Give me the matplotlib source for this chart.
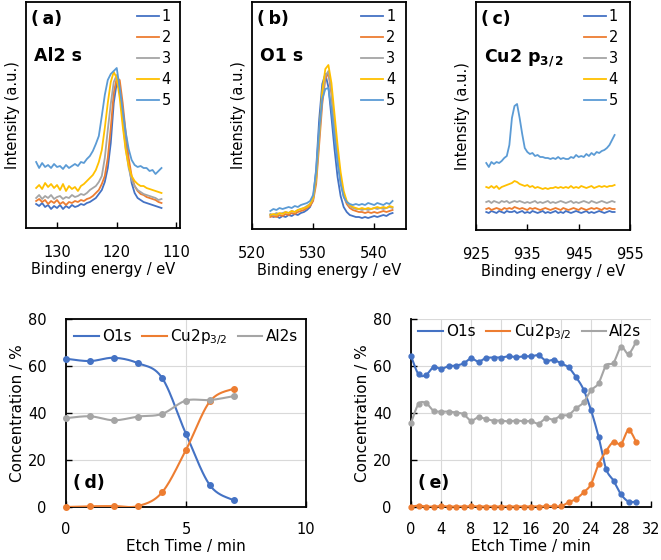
import numpy as np
import matplotlib
matplotlib.use("Agg")
import matplotlib.pyplot as plt

plt.rcParams['font.family'] = ['DejaVu Sans']
plt.rcParams['mathtext.fontset'] = 'dejavusans'

C1, C2, C3, C4, C5 = '#4472C4', '#ED7D31', '#A5A5A5', '#FFC000', '#5B9BD5'
spec_colors = [C1, C2, C3, C4, C5]
spec_labels = ['1', '2', '3', '4', '5']

# ---------------- (a) Al2s ----------------
E_a = [133.5, 133, 132.5, 132, 131.5, 131, 130.5, 130, 129.5, 129, 128.5, 128, 127.5, 127,
       126.5, 126, 125.5, 125, 124.5, 124, 123.5, 123, 122.5, 122, 121.5, 121, 120.5, 120,
       119.5, 119, 118.5, 118, 117.5, 117, 116.5, 116, 115.5, 115, 114.5, 114, 113.5, 113, 112.5]
a1 = [24, 22, 25, 21, 23, 19, 22, 20, 23, 19, 22, 20, 23, 21, 22, 24, 23, 25, 26, 28, 30, 34, 38, 46,
      60, 85, 125, 145, 138, 112, 88, 65, 45, 35, 30, 28, 26, 25, 24, 23, 22, 21, 20]
a2 = [27, 29, 26, 28, 24, 27, 25, 28, 24, 26, 23, 26, 25, 27, 26, 28, 27, 29, 30, 32, 35, 38, 44, 52,
      70, 100, 135, 150, 148, 125, 96, 70, 52, 42, 37, 34, 33, 31, 30, 29, 28, 26, 25]
a3 = [30, 33, 29, 32, 30, 33, 29, 31, 32, 29, 31, 30, 33, 31, 32, 34, 33, 35, 38, 40, 42, 46, 52, 70,
      98, 124, 146, 153, 138, 108, 80, 60, 48, 42, 38, 36, 34, 33, 32, 31, 30, 28, 29]
a4 = [40, 43, 39, 45, 41, 44, 40, 43, 38, 44, 37, 42, 39, 41, 37, 42, 44, 47, 50, 53, 58, 66, 78, 100,
      125, 146, 156, 150, 130, 102, 78, 62, 52, 47, 44, 42, 42, 40, 39, 38, 37, 36, 35]
a5 = [66, 60, 65, 61, 63, 60, 64, 61, 62, 59, 63, 60, 62, 64, 62, 66, 65, 69, 72, 77, 84, 92, 112, 133,
      148, 154, 157, 160, 140, 118, 96, 79, 68, 63, 61, 62, 60, 60, 57, 58, 54, 57, 60]

# ---------------- (b) O1s ----------------
E_b = [523, 523.5, 524, 524.5, 525, 525.5, 526, 526.5, 527, 527.5, 528, 528.5, 529, 529.5, 530,
       530.5, 531, 531.5, 532, 532.5, 533, 533.5, 534, 534.5, 535, 535.5, 536, 536.5, 537, 537.5,
       538, 538.5, 539, 539.5, 540, 540.5, 541, 541.5, 542, 542.5, 543]
b1 = [14, 12, 13, 11, 13, 12, 14, 13, 15, 14, 16, 17, 19, 22, 30, 60, 110, 145, 155, 142, 112, 80, 52,
      33, 22, 17, 14, 13, 12, 12, 11, 12, 11, 12, 13, 12, 13, 14, 13, 15, 16]
b2 = [12, 13, 12, 14, 13, 15, 14, 16, 15, 17, 18, 19, 21, 23, 28, 45, 85, 125, 150, 156, 135, 102, 72,
      48, 33, 25, 21, 19, 18, 17, 17, 16, 17, 16, 17, 16, 17, 18, 17, 18, 19]
b3 = [15, 14, 16, 15, 16, 17, 16, 18, 17, 19, 20, 21, 23, 25, 30, 50, 92, 132, 153, 158, 138, 105, 75,
      50, 35, 27, 23, 21, 20, 20, 19, 20, 19, 20, 21, 20, 21, 20, 21, 22, 21]
b4 = [14, 15, 14, 16, 15, 17, 16, 18, 17, 19, 20, 21, 22, 25, 31, 52, 95, 138, 160, 164, 146, 115, 84,
      57, 38, 28, 24, 22, 21, 20, 21, 20, 21, 20, 21, 22, 21, 22, 21, 23, 22]
b5 = [18, 20, 19, 21, 20, 21, 22, 21, 23, 22, 24, 25, 26, 28, 34, 58, 100, 130, 140, 141, 120, 92, 66,
      45, 32, 27, 25, 24, 25, 24, 25, 24, 26, 25, 24, 26, 25, 24, 26, 25, 28]

# ---------------- (c) Cu2p3/2 ----------------
E_c = [927, 927.5, 928, 928.5, 929, 929.5, 930, 930.5, 931, 931.5, 932, 932.5, 933, 933.5, 934,
       934.5, 935, 935.5, 936, 936.5, 937, 937.5, 938, 938.5, 939, 939.5, 940, 940.5, 941, 941.5,
       942, 942.5, 943, 943.5, 944, 944.5, 945, 945.5, 946, 946.5, 947, 947.5, 948, 948.5, 949,
       949.5, 950, 950.5, 951, 951.5, 952]
c1 = [18, 17, 19, 18, 17, 19, 18, 17, 19, 18, 18, 19, 17, 18, 19, 17, 18, 17, 19, 18, 17, 18, 19, 17,
      18, 17, 18, 19, 17, 18, 17, 19, 18, 17, 18, 19, 18, 17, 18, 19, 17, 18, 17, 18, 19, 18, 17, 18,
      19, 18, 18]
c2 = [21, 22, 20, 21, 22, 21, 20, 22, 21, 22, 21, 23, 22, 21, 22, 21, 20, 22, 21, 22, 21, 20, 21, 22,
      21, 20, 21, 22, 21, 20, 22, 21, 20, 21, 22, 21, 20, 22, 21, 20, 21, 22, 21, 22, 21, 20, 22, 21,
      22, 21, 21]
c3 = [28, 29, 27, 29, 28, 27, 29, 28, 29, 27, 28, 29, 28, 29, 28, 27, 28, 27, 28, 29, 27, 28, 27, 28,
      29, 27, 28, 27, 28, 29, 28, 27, 28, 29, 27, 28, 27, 28, 29, 28, 27, 29, 28, 27, 28, 29, 28, 27,
      28, 29, 28]
c4 = [43, 42, 44, 42, 44, 41, 43, 44, 45, 46, 47, 49, 48, 46, 45, 44, 45, 43, 44, 42, 43, 42, 41, 42,
      41, 42, 42, 43, 42, 43, 42, 43, 42, 44, 42, 43, 42, 44, 43, 42, 43, 44, 42, 43, 44, 43, 44, 43,
      44, 44, 45]
c5 = [67, 63, 68, 66, 68, 67, 69, 72, 74, 85, 112, 124, 126, 112, 96, 82, 78, 76, 77, 74, 75, 73, 73,
      72, 72, 71, 72, 71, 73, 71, 72, 71, 71, 73, 72, 75, 73, 74, 73, 76, 74, 77, 75, 78, 77, 79, 80,
      82, 85, 90, 95]

# ---------------- (d) depth profile ----------------
t_d = [0, 1, 2, 3, 4, 5, 6, 7]
O_d = [63.1, 62.1, 63.5, 61.2, 55.0, 31.1, 9.2, 2.8]
Cu_d = [0.0, 0.3, 0.4, 0.4, 6.2, 24.3, 45.0, 50.4]
Al_d = [37.8, 38.6, 36.9, 38.5, 39.6, 45.3, 45.5, 47.2]

# ---------------- (e) depth profile ----------------
t_e = list(range(31))
O_e = [64.3, 56.5, 56.2, 59.5, 58.8, 59.9, 60.2, 61.1, 63.2, 61.9, 63.4, 63.6, 63.6, 64.1, 63.8, 64.1,
       64.1, 64.5, 62.2, 62.6, 61.1, 59.4, 55.3, 50.0, 41.2, 30.0, 16.3, 11.2, 5.4, 2.3, 2.3]
Cu_e = [0.2, 0.6, 0.2, 0.2, 0.4, 0.2, 0.2, 0.2, 0.3, 0.2, 0.2, 0.2, 0.2, 0.2, 0.2, 0.2,
        0.2, 0.2, 0.3, 0.3, 0.3, 2.0, 3.4, 6.2, 9.7, 18.2, 23.7, 27.7, 26.8, 32.7, 27.8]
Al_e = [35.7, 43.8, 44.2, 41.0, 40.6, 40.6, 40.2, 39.5, 36.8, 38.2, 37.4, 36.8, 36.8, 36.4, 36.8, 36.5,
        36.5, 35.5, 37.8, 37.2, 38.9, 39.2, 42.0, 44.5, 49.6, 52.6, 60.2, 61.4, 68.0, 65.2, 70.2]


def excel_smooth(x, y, n=24):
    P = np.column_stack([np.asarray(x, float), np.asarray(y, float)])
    out = []
    for i in range(len(P) - 1):
        p0 = P[i - 1] if i > 0 else P[i]
        p1, p2 = P[i], P[i + 1]
        p3 = P[i + 2] if i + 2 < len(P) else P[i + 1]
        c1 = p1 + (p2 - p0) / 6.0
        c2 = p2 - (p3 - p1) / 6.0
        t = np.linspace(0, 1, n)[:, None]
        seg = (1 - t) ** 3 * p1 + 3 * (1 - t) ** 2 * t * c1 + 3 * (1 - t) * t ** 2 * c2 + t ** 3 * p2
        out.append(seg if i == 0 else seg[1:])
    S = np.vstack(out)
    return S[:, 0], S[:, 1]


W, H = 661, 560
fig = plt.figure(figsize=(W / 100, H / 100), dpi=100)


def ax_px(l, t, r, b):
    return fig.add_axes([l / W, 1 - b / H, (r - l) / W, (b - t) / H])


def spec_panel(ax, E, series, xlim, xticks, hpx, tag, name, leg_x):
    for ys, c, lab in zip(series, spec_colors, spec_labels):
        ax.plot(E, ys, color=c, lw=1.3, label=lab)
    ax.set_xlim(*xlim)
    ax.set_ylim(0, hpx)
    ax.set_xticks(xticks)
    ax.set_yticks([])
    ax.tick_params(axis='x', direction='in', length=4, width=1, pad=12, labelsize=10.5)
    for s in ax.spines.values():
        s.set_linewidth(1.3)
        s.set_color('black')
    ax.set_xlabel('Binding energy / eV', fontsize=10.5, labelpad=2)
    ax.set_ylabel('Intensity (a.u.)', fontsize=10.5, labelpad=4)
    ax.text(0.03, 0.965, tag, transform=ax.transAxes, fontsize=12.5, fontweight='bold',
            ha='left', va='top')
    ax.text(0.05, 0.80, name, transform=ax.transAxes, fontsize=12.5, fontweight='bold',
            ha='left', va='top')
    ax.legend(loc='upper left', bbox_to_anchor=(leg_x, 0.97), frameon=False, fontsize=10.5,
              handlelength=1.5, handletextpad=0.2, labelspacing=0.42, borderaxespad=0,
              borderpad=0)


axa = ax_px(26, 2, 180, 228)
spec_panel(axa, E_a, [a1, a2, a3, a4, a5], (135.2, 109.4), [130, 120, 110], 226,
           '(\u2009a)', 'Al2 s', 0.72)
axb = ax_px(252, 2, 406, 229)
spec_panel(axb, E_b, [b1, b2, b3, b4, b5], (520, 545.2), [520, 530, 540], 227,
           '(\u2009b)', 'O1 s', 0.71)
axc = ax_px(476, 2, 630, 230)
spec_panel(axc, E_c, [c1, c2, c3, c4, c5], (925, 955), [925, 935, 945, 955], 228,
           '(\u2009c)', r'Cu2 p$_{\mathbf{3/\,2}}$', 0.70)


def prof_panel(ax, t, O, Cu, Al, xlim, xticks, tag, full_box, leg_y, leg_x, ms):
    for ys, c, lab in [(O, C1, 'O1s'), (Cu, C2, r'Cu2p$_{3/2}$'), (Al, C3, 'Al2s')]:
        xs, ysm = excel_smooth(t, ys)
        ax.plot(xs, ysm, color=c, lw=1.5, label=lab, zorder=3)
        ax.plot(t, ys, 'o', color=c, ms=ms, zorder=4, clip_on=False)
    ax.set_xlim(*xlim)
    ax.set_ylim(0, 80)
    ax.set_xticks(xticks)
    ax.set_yticks([0, 20, 40, 60, 80])
    ax.grid(True, color='#D9D9D9', lw=0.8, zorder=0)
    ax.set_axisbelow(True)
    ax.tick_params(axis='both', direction='in', length=4, width=1, labelsize=10.5)
    ax.tick_params(axis='x', pad=11)
    ax.tick_params(axis='y', pad=14)
    for k, s in ax.spines.items():
        s.set_linewidth(1.3)
        s.set_color('black')
        if not full_box and k in ('top', 'right'):
            s.set_visible(False)
    ax.set_xlabel('Etch Time / min', fontsize=11, labelpad=1)
    ax.set_ylabel('Concentration / %', fontsize=11, labelpad=2)
    ax.text(0.03, 0.08, tag, transform=ax.transAxes, fontsize=12.5, fontweight='bold',
            ha='left', va='bottom')
    leg = ax.legend(loc='center left', bbox_to_anchor=(leg_x, leg_y), ncol=3, frameon=False,
                    fontsize=11, handlelength=1.6, handletextpad=0.2, columnspacing=0.7,
                    borderaxespad=0, borderpad=0)
    leg.set_zorder(5)


axd = ax_px(66, 319, 306, 507)
prof_panel(axd, t_d, O_d, Cu_d, Al_d, (0, 10), [0, 5, 10], '(\u2009d)', True, 0.905, 0.035, 4)
axe = ax_px(411, 319, 651, 507)
prof_panel(axe, t_e, O_e, Cu_e, Al_e, (0, 32), list(range(0, 33, 4)), '(\u2009e)', False, 0.93,
           0.03, 3.5)

fig.savefig('out.png', dpi=100)
